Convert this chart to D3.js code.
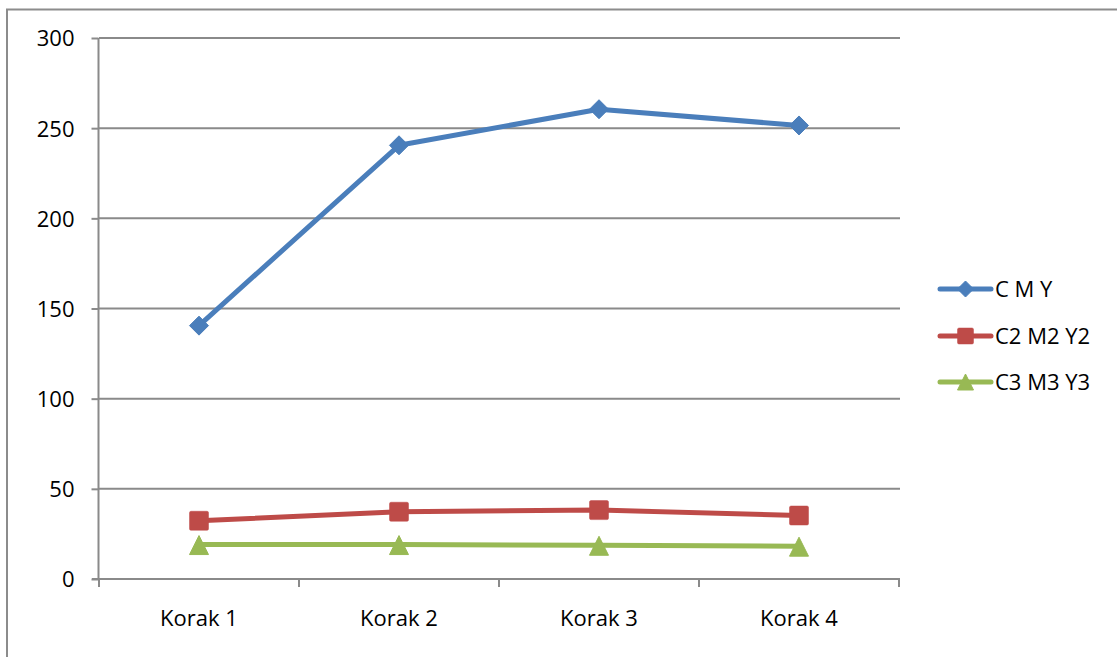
<!DOCTYPE html>
<html>
<head>
<meta charset="utf-8">
<script src="https://cdn.jsdelivr.net/npm/d3@7"></script>
<style>
  html, body { margin: 0; padding: 0; background: #fff; }
  svg { display: block; font-family: "Open Sans", "Liberation Sans", sans-serif; }
</style>
</head>
<body>
<svg id="chart" width="1117" height="657"></svg>
<script>
const categories = ["Korak 1", "Korak 2", "Korak 3", "Korak 4"];
const seriesNames = ["C M Y", "C2 M2 Y2", "C3 M3 Y3"];
const cmy = [140.5, 240.5, 260.5, 251.5];
const c2m2y2 = [32.3, 37.3, 38.2, 35.2];
const c3m3y3 = [19.1, 19.1, 18.7, 18.2];
const yTicks = [0, 50, 100, 150, 200, 250, 300];

(function () {
const colors = ["#4a7ebb", "#be4b48", "#98b954"];
const markers = ["diamond", "square", "triangle"];
const seriesValues = [cmy, c2m2y2, c3m3y3];

const svg = d3.select("#chart");
const W = 1117, H = 657;

// outer chart border
svg.append("rect")
  .attr("x", 7).attr("y", 9.5)
  .attr("width", W + 20).attr("height", H + 20)
  .attr("fill", "none").attr("stroke", "#8c8c8c").attr("stroke-width", 2);

const mLeft = 99, mRight = 899, mTop = 38, mBottom = 579;

const x = d3.scaleBand().domain(categories).range([mLeft, mRight]);
const y = d3.scaleLinear().domain([0, 300]).range([mBottom, mTop]);

// gridlines
svg.append("g").selectAll("line").data(yTicks.filter(d => d > 0)).join("line")
  .attr("x1", mLeft).attr("x2", mRight + 1)
  .attr("y1", d => y(d)).attr("y2", d => y(d))
  .attr("stroke", "#8a8a8a").attr("stroke-width", 2);

// y axis
const yAxis = d3.axisLeft(y).tickValues(yTicks).tickSize(7).tickPadding(17).tickFormat(d3.format("d"));
const gy = svg.append("g").attr("transform", `translate(${mLeft - 0.5},0)`).call(yAxis);
gy.select(".domain").attr("stroke", "#8a8a8a").attr("stroke-width", 2).attr("d", `M0,${mTop}V${mBottom}`);
gy.selectAll(".tick line").attr("stroke", "#8a8a8a").attr("stroke-width", 2);
gy.selectAll(".tick text").attr("font-size", 22).attr("fill", "#000")
  .attr("font-family", "'Open Sans', sans-serif").attr("dy", "0.36em");

// x axis
const xAxis = d3.axisBottom(x).tickSize(0).tickPadding(31);
const gx = svg.append("g").attr("transform", `translate(0,${mBottom})`).call(xAxis);
gx.select(".domain").attr("stroke", "#8a8a8a").attr("stroke-width", 2).attr("d", `M${mLeft - 7},0H${mRight + 1}`);
gx.selectAll(".tick text").attr("font-size", 22).attr("fill", "#000")
  .attr("font-family", "'Open Sans', sans-serif");
// category boundary ticks
const boundaries = categories.map(c => x(c)).concat([x(categories[categories.length - 1]) + x.bandwidth()]);
gx.append("g").selectAll("line").data(boundaries).join("line")
  .attr("x1", d => d).attr("x2", d => d).attr("y1", 0).attr("y2", 8)
  .attr("stroke", "#8a8a8a").attr("stroke-width", 2);

function drawMarker(g, type, cx, cy, size, color) {
  const h = size / 2;
  if (type === "diamond") {
    g.append("path").attr("d", `M${cx},${cy - h}L${cx + h},${cy}L${cx},${cy + h}L${cx - h},${cy}Z`)
      .attr("fill", color).attr("stroke", color).attr("stroke-width", 1).attr("stroke-linejoin", "round");
  } else if (type === "square") {
    g.append("rect").attr("x", cx - h).attr("y", cy - h).attr("width", size).attr("height", size)
      .attr("rx", 1.5).attr("fill", color).attr("stroke", color).attr("stroke-width", 0.5);
  } else {
    g.append("path").attr("d", `M${cx},${cy - h}L${cx + h},${cy + h}L${cx - h},${cy + h}Z`)
      .attr("fill", color).attr("stroke", color).attr("stroke-width", 1).attr("stroke-linejoin", "round");
  }
}

const line = d3.line().x((d, i) => x(categories[i]) + x.bandwidth() / 2).y(d => y(d));
const markerSizes = [19, 19, 19];

seriesValues.forEach((vals, si) => {
  const g = svg.append("g");
  g.append("path").datum(vals).attr("d", line)
    .attr("fill", "none").attr("stroke", colors[si]).attr("stroke-width", 5)
    .attr("stroke-linejoin", "round").attr("stroke-linecap", "round");
  vals.forEach((v, i) => {
    const cx = x(categories[i]) + x.bandwidth() / 2;
    const cy = markers[si] === "triangle" ? y(v) + 0.5 : y(v);
    drawMarker(g, markers[si], cx, cy, markerSizes[si], colors[si]);
  });
});

// legend
const legendY = [289, 336, 382];
seriesNames.forEach((name, si) => {
  const g = svg.append("g");
  const ly = legendY[si];
  g.append("line").attr("x1", 940).attr("x2", 991).attr("y1", ly).attr("y2", ly)
    .attr("stroke", colors[si]).attr("stroke-width", 5).attr("stroke-linecap", "round");
  drawMarker(g, markers[si], 965.5, ly, 16, colors[si]);
  g.append("text").attr("x", 995).attr("y", ly).attr("dy", "0.36em")
    .attr("font-size", 22).attr("fill", "#000").text(name);
});
})();
</script>
</body>
</html>
